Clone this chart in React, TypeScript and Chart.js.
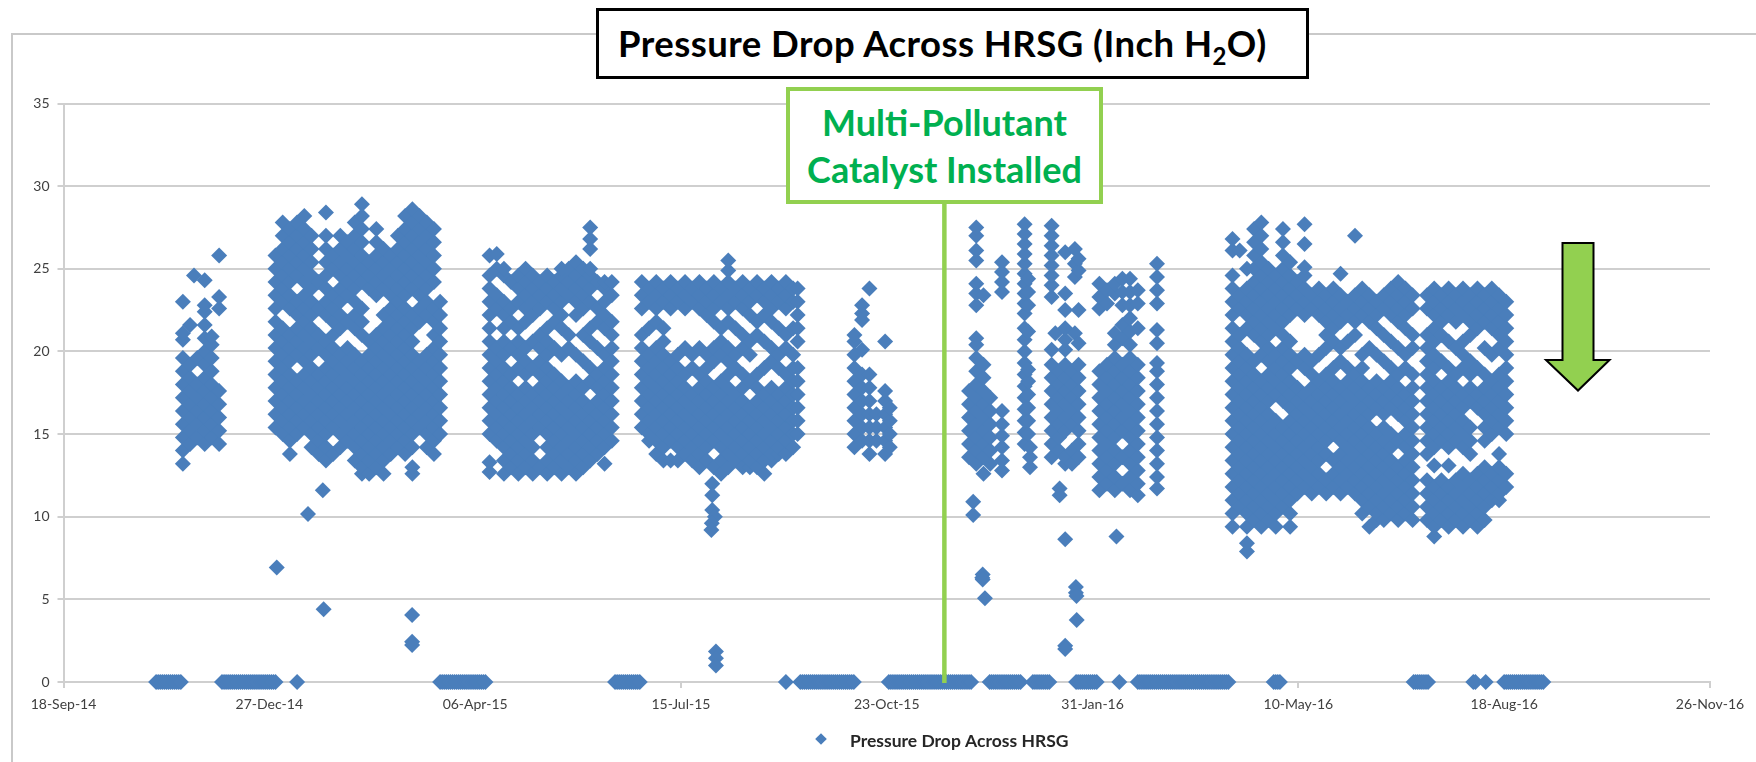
import React, { useEffect, useRef } from "react";
import { Chart, registerables } from "chart.js";

Chart.register(...registerables);

const SERIES_NAME = "Pressure Drop Across HRSG";
const dateLabels = ["18-Sep-14", "27-Dec-14", "06-Apr-15", "15-Jul-15", "23-Oct-15", "31-Jan-16", "10-May-16", "18-Aug-16", "26-Nov-16"];
const installDay = 42328;

const zeroDays = [41945,41946,41947,41948,41949,41950,41951,41952,41953,41954,41955,41956,41957,41977,41978,41979,41980,41981,41982,41983,41984,41985,41986,41987,41988,41989,41990,41991,41992,41993,41994,41995,41996,41997,41998,41999,42000,42001,42002,42003,42013.5,42083,42084,42085,42086,42087,42088,42089,42090,42091,42092,42093,42094,42095,42096,42097,42098,42099,42100,42101,42102,42103,42104,42105,42168,42169,42170,42171,42172,42173,42174,42175,42176,42177,42178,42179,42180,42251,42258,42259,42260,42261,42262,42263,42264,42265,42266,42267,42268,42269,42270,42271,42272,42273,42274,42275,42276,42277,42278,42279,42280,42281,42282,42283,42284,42301,42302,42303,42304,42305,42306,42307,42308,42309,42310,42311,42312,42313,42314,42315,42316,42317,42318,42319,42320,42321,42322,42323,42324,42325,42326,42327,42328,42329,42330,42331,42332,42333,42334,42335,42336,42337,42338,42339,42340,42341,42350,42351,42352,42353,42354,42355,42356,42357,42358,42359,42360,42361,42362,42363,42364,42365,42371,42372,42373,42374,42375,42376,42377,42378,42379,42392,42393,42394,42395,42396,42397,42398,42399,42400,42401,42402,42413,42422,42423,42424,42425,42426,42427,42428,42429,42430,42431,42432,42433,42434,42435,42436,42437,42438,42439,42440,42441,42442,42443,42444,42445,42446,42447,42448,42449,42450,42451,42452,42453,42454,42455,42456,42457,42458,42459,42460,42461,42462,42463,42464,42465,42466,42488,42489,42490,42491,42556,42557,42558,42559,42560,42561,42562,42563,42585,42586,42591,42600,42601,42602,42603,42604,42605,42606,42607,42608,42609,42610,42611,42612,42613,42614,42615,42616,42617,42618,42619];

const outliers: number[][] = [
  [42003.6,6.92],[42018.8,10.17],[42026,11.6],[42026.4,4.4],[42069.4,4.05],[42069.4,2.44],[42069.4,2.24],
  [42215.2,12],[42215.2,11.3],[42215.2,10.4],[42216.5,10],[42215,9.6],[42214.8,9.2],[42217,1.85],[42217,1.43],[42217,1],
  [42342,10.9],[42342,10.1],[42346.6,6.5],[42346.4,6.3],[42346.6,6.2],[42347.7,5.07],
  [42384,11.7],[42384,11.3],[42386.7,8.63],[42391.9,5.75],[42391.9,5.4],[42392.2,5.2],[42392.3,3.75],[42386.7,2.2],[42386.7,2],[42411.6,8.8],
];

const clusterA: number[][] = [
  [41958,13.2,14,14.8,15.6,16.4,17.2,18,18.8,19.6,20.7,21.1,23],
  [41961.5,14.4,15.2,16,16.8,17.6,18.4,19.2,21.6],
  [41963.4,24.6],
  [41965,14.8,15.6,16.4,17.2,18,19.6],
  [41968.6,14.4,15.2,16,16.8,17.6,18.4,19.2,20,20.8,21.6,22.4,22.8,24.3],
  [41972,14.8,15.6,16.4,17.2,18,18.8,19.6,20.4,20.9],
  [41975.6,14.4,15.2,16,16.8,17.6,22.6,23.3,25.8],
];

const clusterB: number[][] = [
  [42003,15.4,16.2,17,17.8,18.6,19.4,20.2,21,21.8,22.6,23.4,24.2,25,25.8],
  [42006.5,15,15.8,16.6,17.4,18.2,19,19.8,20.6,21.4,23,23.8,24.6,25.4,26.2,27,27.8],
  [42010,13.8,14.6,15.4,16.2,17,17.8,18.6,19.4,20.2,21,22.6,23.4,24.2,25,25.8,26.6,27.4],
  [42013.5,15,15.8,16.6,17.4,18.2,19.8,20.6,21.4,22.2,23,24.6,25.4,26.2,27,27.8],
  [42017,15.4,16.2,17,17.8,18.6,19.4,20.2,21,21.8,22.6,23.4,24.2,25,25.8,26.6,27.4,28.2],
  [42020.5,14.2,15,15.8,16.6,17.4,18.2,19,19.8,20.6,21.4,22.2,23,23.8,24.6,25.4,26.2,27],
  [42024,13.8,14.6,15.4,16.2,17,17.8,18.6,20.2,21,22.6,24.2],
  [42027.5,13.4,14.2,15,15.8,16.6,17.4,18.2,19,19.8,20.6,22.2,23,23.8,24.6,25.4,26.2,27,28.4],
  [42031,13.8,15.4,16.2,17,17.8,18.6,19.4,20.2,21,21.8,22.6,23.4,25,25.8],
  [42034.5,14.2,15,15.8,16.6,17.4,18.2,19,19.8,21.4,22.2,23,23.8,24.6,25.4,26.2,27],
  [42038,14.6,15.4,16.2,17,17.8,18.6,19.4,20.2,21.8,23.4,24.2,25,25.8,26.6],
  [42041.5,13.4,14.2,15,15.8,16.6,17.4,18.2,19,19.8,21.4,22.2,23,23.8,24.6,25.4,26.2,27,27.8],
  [42045,12.6,13,13.8,14.6,15.4,16.2,17,17.8,18.6,19.4,21,21.8,22.6,24.2,25,25.8,26.6,27.4,28.2,28.9],
  [42048.5,12.6,13.4,14.2,15,15.8,16.6,17.4,18.2,19,19.8,20.6,23.8,24.6,25.4],
  [42052,13,13.8,14.6,15.4,16.2,17,17.8,18.6,19.4,20.2,21,23.4,24.2,25,25.8,26.6,27.4],
  [42055.5,12.6,13.4,14.2,15,15.8,16.6,17.4,18.2,19,19.8,20.6,21.4,22.2,23.8,24.6,25.4,26.2],
  [42059,13.8,14.6,15.4,16.2,17,17.8,18.6,19.4,20.2,21,21.8,22.6,23.4,24.2,25,25.8],
  [42062.5,14.2,15,15.8,16.6,17.4,18.2,19,19.8,20.6,21.4,22.2,23,23.8,24.6,25.4,26.2,27],
  [42066,13.8,14.6,15.4,16.2,17,17.8,18.6,19.4,20.2,21,21.8,22.6,23.4,24.2,25,25.8,26.6,27.4,28.2],
  [42069.5,12.6,13,14.2,15,15.8,16.6,17.4,18.2,19,19.8,20.6,21.4,22.2,23.8,24.6,25.4,26.2,27,27.8,28.6],
  [42073,15.4,16.2,17,17.8,18.6,19.4,21.8,22.6,23.4,24.2,25,25.8,26.6,27.4,28.2],
  [42076.5,14.2,15,15.8,16.6,17.4,18.2,19,19.8,22.2,23,23.8,24.6,25.4,26.2,27,27.8],
  [42080,13.8,14.6,15.4,16.2,17,17.8,18.6,19.4,20.2,21,21.8,22.6,24.2,25,25.8,26.6,27.4],
  [42083,15,15.8,16.6,17.4,18.2,19,19.8,20.6,21.4,22.2,23],
];

const clusterC: number[][] = [
  [42107,12.7,13.3,15,15.8,16.6,17.4,18.2,19,19.8,20.6,21.4,22.2,23,23.8,24.6,25.8],
  [42110.5,14.6,15.4,16.2,17,17.8,18.6,19.4,20.2,22.6,23.4,25,25.9],
  [42114,12.6,13.4,14.2,15,15.8,16.6,17.4,18.2,19,19.8,20.6,21.4,22.2,23,24.6,25],
  [42117.5,13,13.8,14.6,15.4,16.2,17,17.8,18.6,20.2,21.8,22.6,24.2],
  [42121,12.6,13.4,14.2,15,15.8,16.6,17.4,19,19.8,20.6,21.4,23,23.8,24.6],
  [42124.5,13,13.8,14.6,15.4,16.2,17,17.8,18.6,19.4,20.2,21.8,22.6,23.4,24.2,25],
  [42128,12.6,13.4,14.2,15,15.8,16.6,17.4,19,20.6,22.2,23,23.8,24.6],
  [42131.5,13,15.4,16.2,17,17.8,18.6,19.4,20.2,21,22.6,23.4,24.2],
  [42135,12.6,13.4,14.2,15,15.8,16.6,17.4,18.2,19,19.8,20.6,21.4,23,23.8,24.6],
  [42138.5,13,13.8,14.6,15.4,16.2,17,17.8,18.6,20.2,21.8,22.6,23.4,24.2],
  [42142,12.6,13.4,14.2,15,15.8,16.6,17.4,18.2,19.8,21.4,22.2,23,23.8,24.6,25],
  [42145.5,13,13.8,14.6,15.4,16.2,17,17.8,20.2,21,23.4,24.2,25],
  [42149,12.6,13.4,14.2,15,15.8,16.6,17.4,18.2,19.8,22.2,23,23.8,24.6,25.4],
  [42152.5,13,13.8,14.6,15.4,16.2,17,17.8,19.4,21,22.6,23.4,24.2,25],
  [42155.9,13.4,14.2,15,15.8,16.6,18.2,19,20.6,21.4,23,23.8,24.6,25,26.2,26.8,27.5],
  [42159.4,13.8,14.6,15.4,16.2,17,17.8,18.6,20.2,21.8,22.6,24.2],
  [42162.9,13.2,14.2,15,15.8,16.6,17.4,18.2,19,19.8,21.4,22.2,23,23.8,24.2],
  [42166.4,14.6,15.4,16.2,17,17.8,18.6,19.4,20.2,21,21.8,23.4,24.2],
];

const clusterD: number[][] = [
  [42181,15.4,16.2,17,17.8,18.6,19.4,20.2,21,22.6,23.4,24.2],
  [42184.5,14.6,15,15.8,16.6,17.4,18.2,19,19.8,21.4,23,23.8],
  [42188,13.8,14.6,15.4,16.2,17,17.8,18.6,19.4,20.2,21.8,22.6,23.4,24.2],
  [42191.5,13.4,14.2,15,15.8,16.6,17.4,18.2,19,19.8,20.6,21.4,23,23.8],
  [42195,13.4,14.6,15.4,16.2,17,17.8,18.6,19.4,22.6,23.4,24.2],
  [42198.5,13.4,14.2,15,15.8,16.6,17.4,18.2,19,19.8,23,23.8],
  [42202,13.8,14.6,15.4,16.2,17,17.8,18.6,20.2,22.6,23.4,24.2],
  [42205.5,13.4,14.2,15,15.8,16.6,17.4,19,19.8,23,23.8],
  [42209,13,13.8,14.6,15.4,16.2,17,17.8,18.6,20.2,22.6,23.4,24.2],
  [42212.5,13.4,14.2,15,15.8,16.6,17.4,18.2,19,19.8,22.2,23,23.8],
  [42216,13,14.6,15.4,16.2,17,17.8,19.4,20.2,21.8,22.6,23.4,24.2],
  [42219.5,12.6,13.4,14.2,15,15.8,16.6,17.4,18.2,19.8,20.6,21.4,23,23.8],
  [42223,13,13.8,14.6,15.4,16.2,17,17.8,18.6,19.4,20.2,21.8,22.6,23.4,24.2,24.9,25.5],
  [42226.5,13.4,14.2,15,15.8,16.6,17.4,19,19.8,21.4,23,23.8],
  [42230,13,13.8,14.6,15.4,16.2,17,17.8,18.6,20.2,21,22.6,23.4,24.2],
  [42233.5,13,13.4,14.2,15,15.8,16.6,18.2,19.8,20.6,22.2,23,23.8],
  [42237,13,13.8,14.6,15.4,16.2,17,17.8,18.6,21,21.8,23.4,24.2],
  [42240.5,12.6,13.4,14.2,15,15.8,16.6,17.4,19,20.6,22.2,23,23.8],
  [42244,13.4,13.8,14.6,15.4,16.2,17,17.8,19.4,20.2,21.8,22.6,23.4,24.2],
  [42247.5,13.8,14.2,15,15.8,16.6,17.4,19,19.8,21.4,23,23.8],
  [42251,13.8,14.6,15.4,16.2,17,17.8,18.6,20.2,21,22.6,23.4,24.2],
  [42254.5,14.2,15,15.8,16.6,17.4,18.2,19,19.8,21.4,23,23.8],
  [42256.7,15,15.8,16.6,17.4,18.2,19,20.6,21.4,22.2,23,23.8],
];

const clusterE: number[][] = [
  [42284.3,14.2,15,15.8,16.6,17.4,18.2,19,19.8,20.6,21],
  [42288,14.6,15.4,16.2,17,17.8,18.6,20.1,21.9,22.3,22.8],
  [42291.6,13.8,14.6,15.4,16.2,17,17.8,18.6,23.8],
  [42295,14.6,15.4,16.2],
  [42299.2,13.8,14.6,15.4,16.2,17,17.6,20.6],
  [42301.5,14.2,15,15.8,16.6],
];

const clusterF: number[][] = [
  [42340,13.6,14.4,15.2,16,16.8,17.6],
  [42343.5,13.2,14,14.8,15.6,16.4,17.2,18,18.8,19.6,20.4,20.8,22.8,23.5,24.1,25.5,26.1,27,27.5],
  [42347,12.6,13.6,14.4,15.2,16,16.8,17.6,18.4,19.2,23.4],
  [42350.3,13.2,14,14.8,15.6,16.4,17.2],
  [42356,12.8,13.4,14.2,14.9,15.6,16.4,23.6,24.2,24.8,25.4],
];

const clusterG: number[][] = [
  [42367,14.4,15.1,15.8,16.5,17.2,17.9,18.6,19.3,20,20.7,21.4,22.3,22.9,23.5,24.1,24.7,25.3,25.9,26.5,27.1,27.7],
  [42368.7,15,15.8,16.6,17.4,18.2,18.9,21.2,22.8,23.6,24.4],
  [42369.6,13,13.6,14.2],
  [42380.1,13.6,14.4,15.2,16,16.8,17.6,18.4,19.2,20.1,23.3,24,24.6,25.2,25.8,26.4,27,27.6],
  [42381.9,21.1],
  [42383.7,14,14.8,15.6,16.4,17.2,18,18.8],
  [42386.7,13.2,13.6,15.2,16,16.8,17.6,18.4,19.2,20.1,20.7,21.4,22.5,23.5,26],
  [42390,13.2,14,15.6,16.4,17.2,18,18.8],
  [42391.4,21.1,24.5,25.3,26.2],
  [42393.2,13.6,14.4,15.2,16,16.8,17.6,18.4,19.2,20.5,22.5,24.9,25.6],
];

const clusterH: number[][] = [
  [42403.3,11.6,12.4,13.2,14,14.8,15.6,16.4,17.2,18,18.8,22.6,23.3,24.1],
  [42407,12,12.8,13.6,14.4,15.2,16,16.8,17.6,18.4,19.2,22.9,23.7],
  [42410.8,11.6,12.4,13.2,14,14.8,15.6,16.4,17.2,18,18.8,19.6,20.4,21.1,23.5,24.1],
  [42414.5,12,13.6,15.2,16,16.8,17.6,18.4,19.2,20.8,21.6,22.8,23.6,24.4],
  [42418.2,11.6,12.4,13.2,14,14.8,15.6,16.4,17.2,18,18.8,19.6,20.4,21.2,22,22.8,23.6,24.4],
  [42422,11.3,12,12.8,13.6,14.4,15.2,16,16.8,17.6,18.4,19.2,21.4,22.9,23.7],
  [42431.3,11.7,12.4,13.2,14,14.8,15.6,16.4,17.2,18,18.8,19.3,20.5,21.3,22.9,23.7,24.5,25.3],
];

const clusterJ: number[][] = [
  [42468,9.4,10.2,11,11.8,12.6,13.4,14.2,15,15.8,16.6,17.4,18.2,19,19.8,20.6,21.4,22.2,23,23.8,24.6,26.1,26.8],
  [42471.5,10.6,11.4,12.2,13,13.8,14.6,15.4,16.2,17,17.8,18.6,19.4,20.2,21,22.6,23.4,26.1],
  [42475,7.9,8.4,9.4,10.2,11,11.8,12.6,13.4,14.2,15,15.8,16.6,17.4,18.2,19,19.8,21.4,22.2,23,23.8,25],
  [42478.5,9.8,10.6,11.4,12.2,13,13.8,14.6,15.4,16.2,17,17.8,18.6,19.4,21,21.8,22.6,23.4,24.2,25,25.8,26.6,27.4],
  [42482,9.4,10.2,11,11.8,12.6,13.4,14.2,15,15.8,16.6,17.4,18.2,19.8,20.6,21.4,22.2,23,23.8,24.6,25.4,26.2,27,27.8],
  [42485.5,9.8,10.6,11.4,12.2,13,13.8,14.6,15.4,16.2,17,17.8,18.6,19.4,20.2,21,21.8,22.6,23.4,24.2,25],
  [42489,9.4,10.2,11,11.8,12.6,13.4,14.2,15,15.8,17.4,18.2,19,19.8,21.4,22.2,23,23.8,24.6],
  [42492.5,10.6,11.4,12.2,13,13.8,14.6,15.4,17,17.8,18.6,19.4,20.2,21,21.8,22.6,23.4,24.2,25,25.8,26.6,27.4],
  [42496,9.4,10.2,11,11.8,12.6,13.4,14.2,15,15.8,16.6,17.4,18.2,19,19.8,20.6,22.2,23,23.8,24.6,25.4],
  [42499.5,11.4,12.2,13,13.8,14.6,15.4,16.2,17,17.8,19.4,22.6,23.4,24.2],
  [42503,11.8,12.6,13.4,14.2,15,15.8,16.6,17.4,19,19.8,22.2,23,23.8,24.6,25.1,26.5,27.7],
  [42506.5,11.4,12.2,13,13.8,14.6,15.4,16.2,17,17.8,18.6,19.4,22.6,23.4],
  [42510,11.8,12.6,13.4,14.2,15,15.8,16.6,17.4,18.2,19.8,22.2,23,23.8],
  [42513.5,11.4,12.2,13.8,14.6,15.4,16.2,17,17.8,18.6,20.2,21,21.8,22.6,23.4],
  [42517,11.8,12.6,13.4,15,15.8,16.6,17.4,18.2,19,20.6,21.4,22.2,23,23.8],
  [42520.5,11.4,12.2,13,13.8,14.6,15.4,16.2,17,17.8,19.4,20.2,21.8,22.6,23.4,24.7],
  [42524,11.8,12.6,13.4,14.2,15,15.8,16.6,17.4,18.2,19,20.6,22.2,23],
  [42527.5,11.4,12.2,13,13.8,14.6,15.4,16.2,17,17.8,18.6,21,21.8,22.6,23.4,27],
  [42531,10.2,11,11.8,12.6,13.4,14.2,15,15.8,16.6,17.4,18.2,19,19.8,22.2,23,23.8],
  [42534.5,9.4,10.6,11.4,12.2,13,13.8,14.6,15.4,16.2,17,17.8,20.2,21.8,22.6,23.4],
  [42538,9.8,10.2,11,11.8,12.6,13.4,14.2,15,16.6,17.4,18.2,19.8,21.4,22.2,23],
  [42541.5,9.8,10.6,11.4,12.2,13,13.8,14.6,15.4,16.2,17,17.8,19.4,21,22.6,23.4],
  [42545,10.2,11,11.8,12.6,13.4,14.2,15,16.6,17.4,18.2,19,20.6,22.2,23,23.8],
  [42548.5,9.8,10.6,11.4,12.2,13,14.6,16.2,17,17.8,18.6,20.2,21.8,22.6,23.4,24.2],
  [42552,10.2,11,11.8,12.6,13.4,14.2,15,15.8,16.6,17.4,19,19.8,21.4,22.2,23,23.8],
  [42555.5,9.8,10.6,11.4,12.2,13,13.8,14.6,15.4,16.2,17,17.8,18.6,20.2,21,22.6,23.4],
  [42562.5,9.8,10.6,11.4,12.2,13.8,14.6,15.4,16.2,17,17.8,18.6,19.4,20.2,21,22.6,23.4],
  [42566,8.8,9.4,10.2,11,11.8,13.1,14.2,15,15.8,16.6,17.4,18.2,19,19.8,20.6,21.4,22.2,23,23.8],
  [42569.5,9.8,10.6,11.4,12.2,14.6,15.4,16.2,17,17.8,19.4,21,21.8,22.6,23.4],
  [42573,9.4,10.2,11,11.8,13.1,14.2,15,15.8,16.6,17.4,18.2,19,20.6,22.2,23,23.8],
  [42576.5,9.8,10.6,11.4,12.2,14.6,15.4,16.2,17,17.8,18.6,20.2,21.8,22.6,23.4],
  [42580,9.4,10.2,11,11.8,12.6,14.2,15,15.8,16.6,17.4,19,19.8,20.6,22.2,23,23.8],
  [42583.5,9.8,10.6,11.4,12.2,13.8,14.6,15.4,17,17.8,18.6,19.4,21,21.8,22.6,23.4],
  [42587,9.4,10.2,11,11.8,12.6,16.6,17.4,19,21.4,22.2,23,23.8],
  [42590.5,9.8,10.6,11.4,12.2,13,14.6,15.4,16.2,17,17.8,18.6,20.2,21.8,22.6,23.4],
  [42594,11,11.8,12.6,15,15.8,16.6,17.4,18.2,19.8,21.4,22.2,23,23.8],
  [42597.5,11,11.4,12.2,13,13.8,15.4,16.2,17,17.8,18.6,20.2,21,21.8,22.6,23.4],
  [42601,11.8,12.6,15,15.8,16.6,17.4,18.2,19,19.8,20.6,21.4,22.2,23],
];

type Row = number[];
const toPoints = (rows: Row[]) =>
  rows.flatMap(([day, ...values]) => values.map((y) => ({ x: day, y })));

const FONT = "Lato, 'Open Sans', sans-serif";

const overlayPlugin = {
  id: "overlay",
  afterDatasetsDraw(chart: any) {
    const { ctx, scales } = chart;
    const xPx = scales.x.getPixelForValue(installDay);
    const y0 = scales.y.getPixelForValue(0);
    ctx.save();
    ctx.strokeStyle = "#92D050";
    ctx.lineWidth = 4.5;
    ctx.beginPath();
    ctx.moveTo(xPx, 200);
    ctx.lineTo(xPx, y0 + 1);
    ctx.stroke();
    ctx.fillStyle = "#4A7EBB";
    const r = 5.8, cx = 821, cy = 739;
    ctx.beginPath();
    ctx.moveTo(cx, cy - r);
    ctx.lineTo(cx + r, cy);
    ctx.lineTo(cx, cy + r);
    ctx.lineTo(cx - r, cy);
    ctx.closePath();
    ctx.fill();
    ctx.fillStyle = "#262626";
    ctx.font = `bold 17.5px ${FONT}`;
    ctx.textBaseline = "middle";
    ctx.textAlign = "left";
    ctx.fillText(chart.data.datasets[0].label, 850, 741);
    ctx.restore();
  },
};

export default function App() {
  const ref = useRef<HTMLCanvasElement>(null);
  useEffect(() => {
    const points = [
      ...zeroDays.map((d) => ({ x: d, y: 0 })),
      ...outliers.map(([x, y]) => ({ x, y })),
      ...toPoints(clusterA), ...toPoints(clusterB), ...toPoints(clusterC), ...toPoints(clusterD),
      ...toPoints(clusterE), ...toPoints(clusterF), ...toPoints(clusterG), ...toPoints(clusterH), ...toPoints(clusterJ),
    ];
    const chart = new Chart(ref.current as HTMLCanvasElement, {
      type: "scatter",
      data: {
        datasets: [{
          label: SERIES_NAME,
          data: points,
          pointStyle: "rectRot",
          pointRadius: 8,
          pointBorderWidth: 0,
          backgroundColor: "#4A7EBB",
          borderColor: "#4A7EBB",
          clip: false,
        }],
      },
      options: {
        animation: false,
        responsive: false,
        layout: { padding: { top: 103.5, right: 46, left: 0, bottom: 0 } },
        plugins: { legend: { display: false }, tooltip: { enabled: false } },
        scales: {
          x: {
            type: "linear", min: 41900, max: 42700,
            afterFit: (s: any) => { s.height = 80; },
            border: { color: "#cfcfcf", width: 2 },
            grid: { drawOnChartArea: false, drawTicks: true, tickLength: 6, color: "#cfcfcf", lineWidth: 2 },
            ticks: {
              stepSize: 100, autoSkip: false, maxRotation: 0, minRotation: 0, padding: 8,
              color: "#404040", font: { family: FONT, size: 14 },
              callback: (v: any) => dateLabels[Math.round((Number(v) - 41900) / 100)],
            },
          },
          y: {
            min: 0, max: 35,
            afterFit: (s: any) => { s.width = 63.5; },
            border: { color: "#cfcfcf", width: 2 },
            grid: { color: "#cfcfcf", lineWidth: 2, tickLength: 6 },
            ticks: { stepSize: 5, padding: 8, color: "#404040", font: { family: FONT, size: 14 } },
          },
        },
      },
      plugins: [overlayPlugin],
    } as any);
    return () => chart.destroy();
  }, []);

  return (
    <div style={{ position: "absolute", left: 0, top: 0, width: 1756, height: 762, overflow: "hidden", background: "#fff" }}>
      <canvas ref={ref} width={1756} height={762} style={{ position: "absolute", left: 0, top: 0, display: "block" }} />
      <div style={{ position: "absolute", left: 11, top: 33, width: 1900, height: 900, border: "2px solid #c9c9c9" }} />
      <div style={{ position: "absolute", left: 596, top: 8, width: 713, height: 71, boxSizing: "border-box", border: "3px solid #000", background: "#fff", fontFamily: FONT, fontWeight: 700, fontSize: 36.5, letterSpacing: 0.45, lineHeight: "64px", color: "#000", paddingLeft: 19, whiteSpace: "nowrap" }}>
        Pressure Drop Across HRSG (Inch H<sub style={{ fontSize: 24, lineHeight: 0 }}>2</sub>O)
      </div>
      <div style={{ position: "absolute", left: 786, top: 87, width: 317, height: 117, boxSizing: "border-box", border: "4.5px solid #92D050", background: "#fff", fontFamily: FONT, fontWeight: 700, fontSize: 36, lineHeight: "47px", color: "#00B050", textAlign: "center", paddingTop: 8, whiteSpace: "nowrap" }}>
        Multi-Pollutant<br />Catalyst Installed
      </div>
      <svg width={1756} height={762} style={{ position: "absolute", left: 0, top: 0, pointerEvents: "none" }}>
        <polygon points="1562.5,243 1593.5,243 1593.5,360 1609.5,360 1578,390.5 1546,360 1562.5,360" fill="#92D050" stroke="#000" strokeWidth={2} />
      </svg>
    </div>
  );
}
